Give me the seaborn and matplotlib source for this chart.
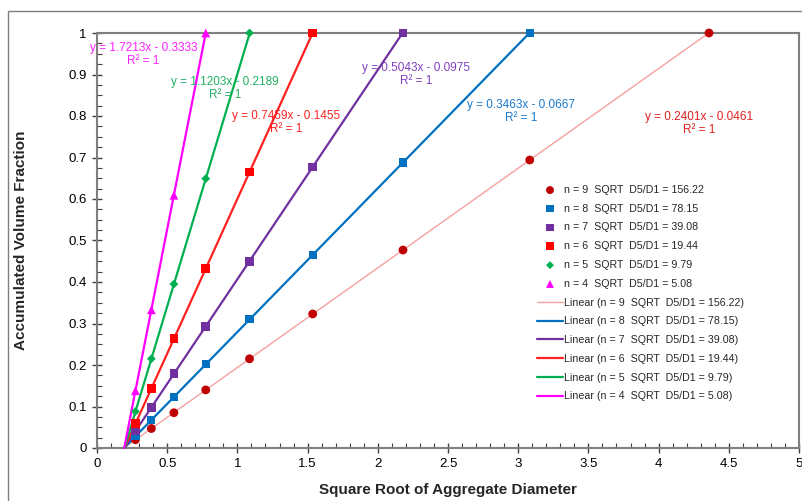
import numpy as np
import pandas as pd
import matplotlib
matplotlib.use("Agg")
import matplotlib.pyplot as plt
from matplotlib.patches import Rectangle
from matplotlib.ticker import MultipleLocator, FuncFormatter
import seaborn as sns

# Square root of sieve size for each measured point
sqrt_d = [0.2739, 0.3873, 0.5477, 0.7746, 1.0863, 1.5362, 2.1794, 3.0822, 4.3589]

# Accumulated volume fraction per gradation (n = number of sieves)
frac_n9 = [0.020, 0.047, 0.085, 0.140, 0.215, 0.323, 0.477, 0.694, 1.000]
frac_n8 = [0.028, 0.067, 0.123, 0.202, 0.310, 0.465, 0.688, 1.000]
frac_n7 = [0.041, 0.098, 0.179, 0.293, 0.450, 0.677, 1.000]
frac_n6 = [0.059, 0.143, 0.263, 0.432, 0.665, 1.000]
frac_n5 = [0.088, 0.215, 0.395, 0.649, 1.000]
frac_n4 = [0.138, 0.333, 0.609, 1.000]

series_names = [
    "n = 9  SQRT  D5/D1 = 156.22",
    "n = 8  SQRT  D5/D1 = 78.15",
    "n = 7  SQRT  D5/D1 = 39.08",
    "n = 6  SQRT  D5/D1 = 19.44",
    "n = 5  SQRT  D5/D1 = 9.79",
    "n = 4  SQRT  D5/D1 = 5.08",
]
series_fracs = [frac_n9, frac_n8, frac_n7, frac_n6, frac_n5, frac_n4]

# Linear trend coefficients (slope, intercept), R² = 1 for all
slopes = [0.2401, 0.3463, 0.5043, 0.7459, 1.1203, 1.7213]
intercepts = [-0.0461, -0.0667, -0.0975, -0.1455, -0.2189, -0.3333]

marker_colors = ["#C00000", "#0070C0", "#7030A0", "#FF0000", "#00B050", "#FF00FF"]
line_colors = ["#F4A0A0", "#0070C0", "#7030A0", "#FF2020", "#00B050", "#FF00FF"]
eq_colors = ["#E02020", "#1A7AD0", "#8040C0", "#FF2020", "#20B060", "#FF20FF"]
markers = ["o", "s", "s", "s", "D", "^"]
msizes = [40, 34, 38, 40, 20, 40]
lwidths = [1.0, 1.6, 1.6, 1.6, 1.6, 1.6]

# equation label anchor (x, y of first line)
eq_pos = [(4.29, 0.797), (3.02, 0.826), (2.27, 0.915), (1.35, 0.800), (0.91, 0.882), (0.33, 0.964)]

sns.set_style("ticks")
plt.rcParams["font.family"] = ["Liberation Sans", "DejaVu Sans"]

fig = plt.figure(figsize=(8.03, 5.01), dpi=100)
ax = fig.add_axes([97 / 803, 1 - 448 / 501, 702 / 803, 415 / 501])

# outer chart frame
fig.patches.append(Rectangle((8 / 803, -0.2), 1.2, 1.2 - 11 / 501,
                             transform=fig.transFigure, fill=False,
                             edgecolor="#7f7f7f", lw=1.0, zorder=-5))

rows = []
for name, fr in zip(series_names, series_fracs):
    for x, y in zip(sqrt_d[:len(fr)], fr):
        rows.append({"x": x, "y": y, "series": name})
df = pd.DataFrame(rows)

for i, name in enumerate(series_names):
    sub = df[df["series"] == name]
    sns.scatterplot(data=sub, x="x", y="y", ax=ax, color=marker_colors[i],
                    marker=markers[i], s=msizes[i], edgecolor="none",
                    zorder=5, label=name, clip_on=False)

for i, name in enumerate(series_names):
    xs = sqrt_d[:len(series_fracs[i])]
    x0 = -intercepts[i] / slopes[i]
    x1 = xs[-1]
    line_x = np.array([x0, x1])
    line_y = slopes[i] * line_x + intercepts[i]
    sns.lineplot(x=line_x, y=line_y, ax=ax, color=line_colors[i],
                 lw=lwidths[i], zorder=3, label=f"Linear ({name})",
                 clip_on=False)
    ex, ey = eq_pos[i]
    ax.text(ex, ey, f"y = {slopes[i]:.4f}x - {abs(intercepts[i]):.4f}",
            color=eq_colors[i], fontsize=8.5, ha="center", va="center", zorder=6)
    ax.text(ex, ey - 0.031, "R² = 1", color=eq_colors[i], fontsize=8.5,
            ha="center", va="center", zorder=6)

ax.set_xlim(0, 5)
ax.set_ylim(0, 1)
ax.xaxis.set_major_locator(MultipleLocator(0.5))
ax.xaxis.set_minor_locator(MultipleLocator(0.1))
ax.yaxis.set_major_locator(MultipleLocator(0.1))
ax.yaxis.set_minor_locator(MultipleLocator(0.025))
fmt = FuncFormatter(lambda v, p: f"{v:g}")
ax.xaxis.set_major_formatter(fmt)
ax.yaxis.set_major_formatter(fmt)
ax.tick_params(which="major", direction="inout", length=7, width=1,
               color="#404040", labelsize=9.5, labelcolor="#000000", pad=4)
ax.tick_params(which="minor", direction="in", length=3.5, width=0.8,
               color="#404040")
for sp in ax.spines.values():
    sp.set_color("#7f7f7f")
    sp.set_linewidth(1.5)
    sp.set_visible(True)

ax.set_xlabel("Square Root of Aggregate Diameter", fontsize=11, fontweight="bold",
              labelpad=9)
ax.set_ylabel("Accumulated Volume Fraction", fontsize=11, fontweight="bold",
              labelpad=29)

h, l = ax.get_legend_handles_labels()
ax.legend(h, l, loc="upper left", bbox_to_anchor=(0.627, 0.634), frameon=False,
          fontsize=7.7, handlelength=2.4, handletextpad=0.15, labelspacing=0.82,
          borderpad=0, borderaxespad=0, markerscale=0.9)

fig.savefig("out.png", dpi=100)
